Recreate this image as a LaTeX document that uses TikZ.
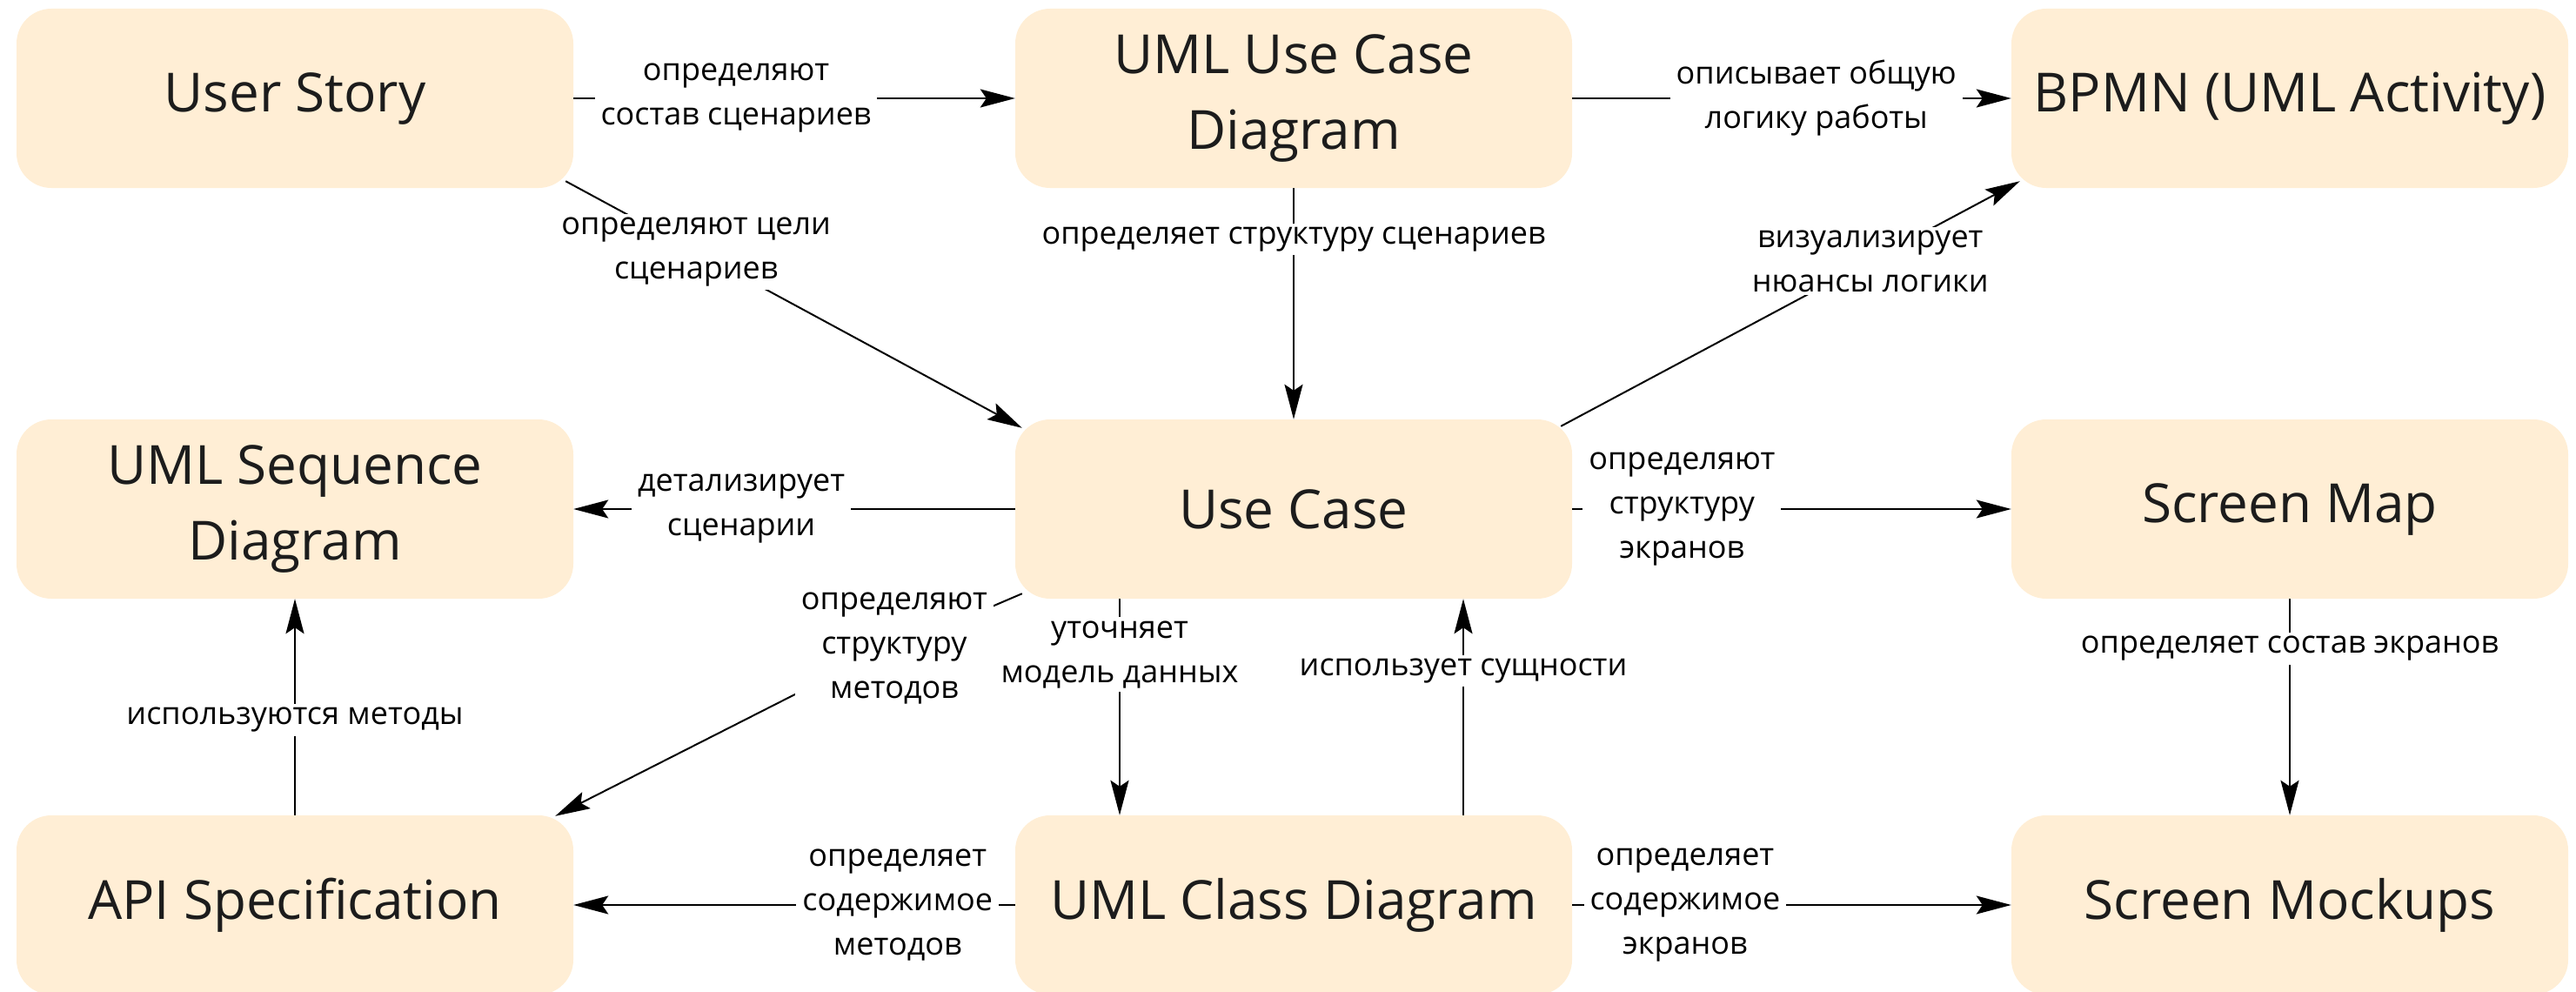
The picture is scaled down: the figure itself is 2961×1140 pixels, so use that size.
\documentclass[tikz,border=0pt]{standalone}
\usepackage{fontspec}
\setmainfont{Open Sans}
\usetikzlibrary{arrows.meta,calc}

\definecolor{boxfill}{RGB}{255,238,213}
\definecolor{boxtext}{RGB}{28,28,28}

\newcommand\bxfont{\fontsize{62}{87}\selectfont}
\newcommand\lbfont{\fontsize{36}{51}\selectfont}

\begin{document}
\begin{tikzpicture}[x=1pt,y=-1pt,
  box/.style={rectangle, rounded corners=40pt, fill=boxfill,
    minimum width=640pt, minimum height=206pt, inner sep=0pt,
    align=center, font=\bxfont, text=boxtext},
  lbl/.style={fill=white, font=\lbfont, align=center, text=black,
    inner xsep=7pt, inner ysep=4pt},
  link/.style={line width=2pt, draw=black,
    -{Stealth[length=40pt, width=21pt, inset=7pt]}},
]
\useasboundingbox (0,0) rectangle (2961,1140);

% --- artefacts ---
\node[box] (us)   at (339,113)   {User Story};
\node[box] (ucd)  at (1487,113)  {UML Use Case\\Diagram};
\node[box] (bpmn) at (2632,113)  {BPMN (UML Activity)};
\node[box] (seq)  at (339,585)   {UML Sequence\\Diagram};
\node[box] (uc)   at (1487,585)  {Use Case};
\node[box] (smap) at (2632,585)  {Screen Map};
\node[box] (api)  at (339,1040)  {API Specification};
\node[box] (cls)  at (1487,1040) {UML Class Diagram};
\node[box] (mock) at (2632,1040) {Screen Mockups};

% bend point of the Use Case -> API link
\coordinate (bend) at (965,772);

% --- relations ---
\draw[link] (us.east) -- node[lbl,pos=0.368] {определяют\\состав сценариев} (ucd.west);
\draw[link] (ucd.east) -- node[lbl,pos=0.556] {описывает общую\\логику работы} (bpmn.west);
\draw[link] (ucd.south) -- node[lbl,pos=0.22] {определяет структуру сценариев} (uc.north);
\draw[link] ($(us.south east)+(-9,-8)$) -- node[lbl,pos=0.286] {определяют цели\\сценариев} ($(uc.north west)+(8,10)$);
\draw[link] ($(uc.north east)+(-13,8)$) -- node[lbl,pos=0.674] {визуализирует\\нюансы логики} ($(bpmn.south west)+(10,-8)$);
\draw[link] (uc.west) -- node[lbl,pos=0.62] {детализирует\\сценарии} (seq.east);
\draw[link] ($(uc.south west)+(8,-6)$) -- node[lbl,pos=0.7] {определяют\\структуру\\методов} (bend) -- ($(api.north east)+(-21,1)$);
\draw[link] (api.north) -- node[lbl,pos=0.44] {используются методы} (seq.south);
\draw[link] ($(uc.south)+(-200,0)$) -- node[lbl,pos=0.257] {уточняет\\модель данных} ($(cls.north)+(-200,0)$);
\draw[link] ($(cls.north)+(195,0)$) -- node[lbl,pos=0.667] {использует сущности} ($(uc.south)+(195,0)$);
\draw[link] (uc.east) -- node[lbl,pos=0.25] {определяют\\структуру\\экранов} (smap.west);
\draw[link] (smap.south) -- node[lbl,pos=0.23] {определяет состав экранов} (mock.north);
\draw[link] (cls.west) -- node[lbl,pos=0.266] {определяет\\содержимое\\методов} (api.east);
\draw[link] (cls.east) -- node[lbl,pos=0.257] {определяет\\содержимое\\экранов} (mock.west);
\end{tikzpicture}
\end{document}
